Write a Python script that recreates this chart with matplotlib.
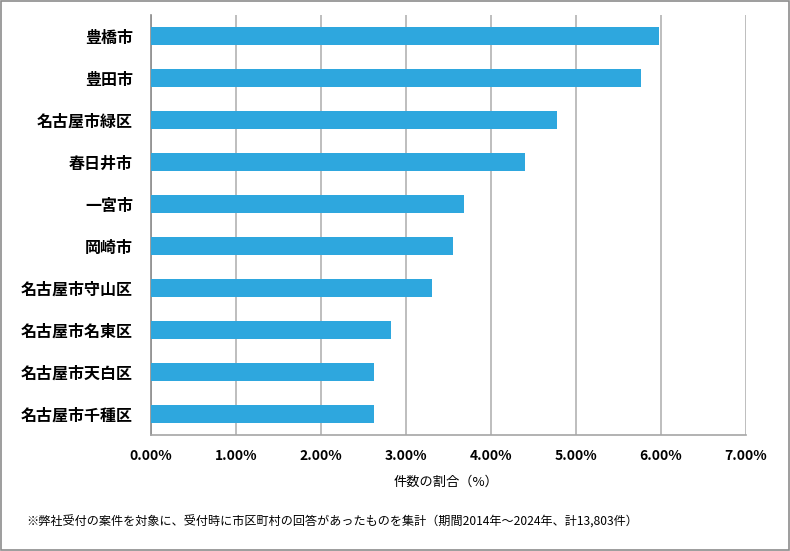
import matplotlib
matplotlib.use('Agg')
import matplotlib.pyplot as plt
from matplotlib.ticker import FuncFormatter, MultipleLocator

plt.rcParams['font.family'] = ['Noto Sans CJK JP', 'DejaVu Sans']

# 件数の割合 (%) -- 計13,803件
cities = ['豊橋市', '豊田市', '名古屋市緑区', '春日井市', '一宮市',
          '岡崎市', '名古屋市守山区', '名古屋市名東区', '名古屋市天白区', '名古屋市千種区']
shares = [5.977, 5.767, 4.774, 4.405, 3.680, 3.550, 3.304, 2.818, 2.623, 2.623]

xlabel = '件数の割合（%）'
note = '※弊社受付の案件を対象に、受付時に市区町村の回答があったものを集計（期間2014年～2024年、計13,803件）'

fig = plt.figure(figsize=(7.9, 5.51), dpi=100)
ax = fig.add_axes([151 / 790, 1 - 435 / 551, 595 / 790, 420 / 551])

ax.barh(range(len(cities)), shares, height=0.42, color='#2ea7de', zorder=3)
ax.set_xlim(0, 7)
ax.set_ylim(len(cities) - 0.5, -0.5)
ax.set_yticks(range(len(cities)))
ax.set_yticklabels(cities, fontsize=11.5, fontweight='bold')
ax.xaxis.set_major_locator(MultipleLocator(1))
ax.xaxis.set_major_formatter(FuncFormatter(lambda v, p: '{:.2f}%'.format(v)))
for lab in ax.get_xticklabels():
    lab.set_fontweight('bold')
    lab.set_fontsize(10)
ax.tick_params(axis='both', length=0)
ax.tick_params(axis='y', pad=13)
ax.tick_params(axis='x', pad=10)
ax.grid(axis='x', color='#b3b3b3', linewidth=1.2, zorder=0)
for side in ('top', 'right'):
    ax.spines[side].set_visible(False)
ax.spines['left'].set_color('#8c8c8c')
ax.spines['bottom'].set_color('#a6a6a6')
ax.spines['left'].set_linewidth(1.2)
ax.spines['bottom'].set_linewidth(1.2)

fig.text(446 / 790, 1 - 482 / 551, xlabel, fontsize=9.5, ha='center', va='center')
fig.text(26 / 790, 1 - 522 / 551, note, fontsize=8.7, ha='left', va='center')

fig.add_artist(plt.Rectangle((0.001, 0.001), 0.998, 0.998, transform=fig.transFigure,
                             fill=False, edgecolor='#8c8c8c', linewidth=1.2))

fig.savefig('out.png', dpi=100)
